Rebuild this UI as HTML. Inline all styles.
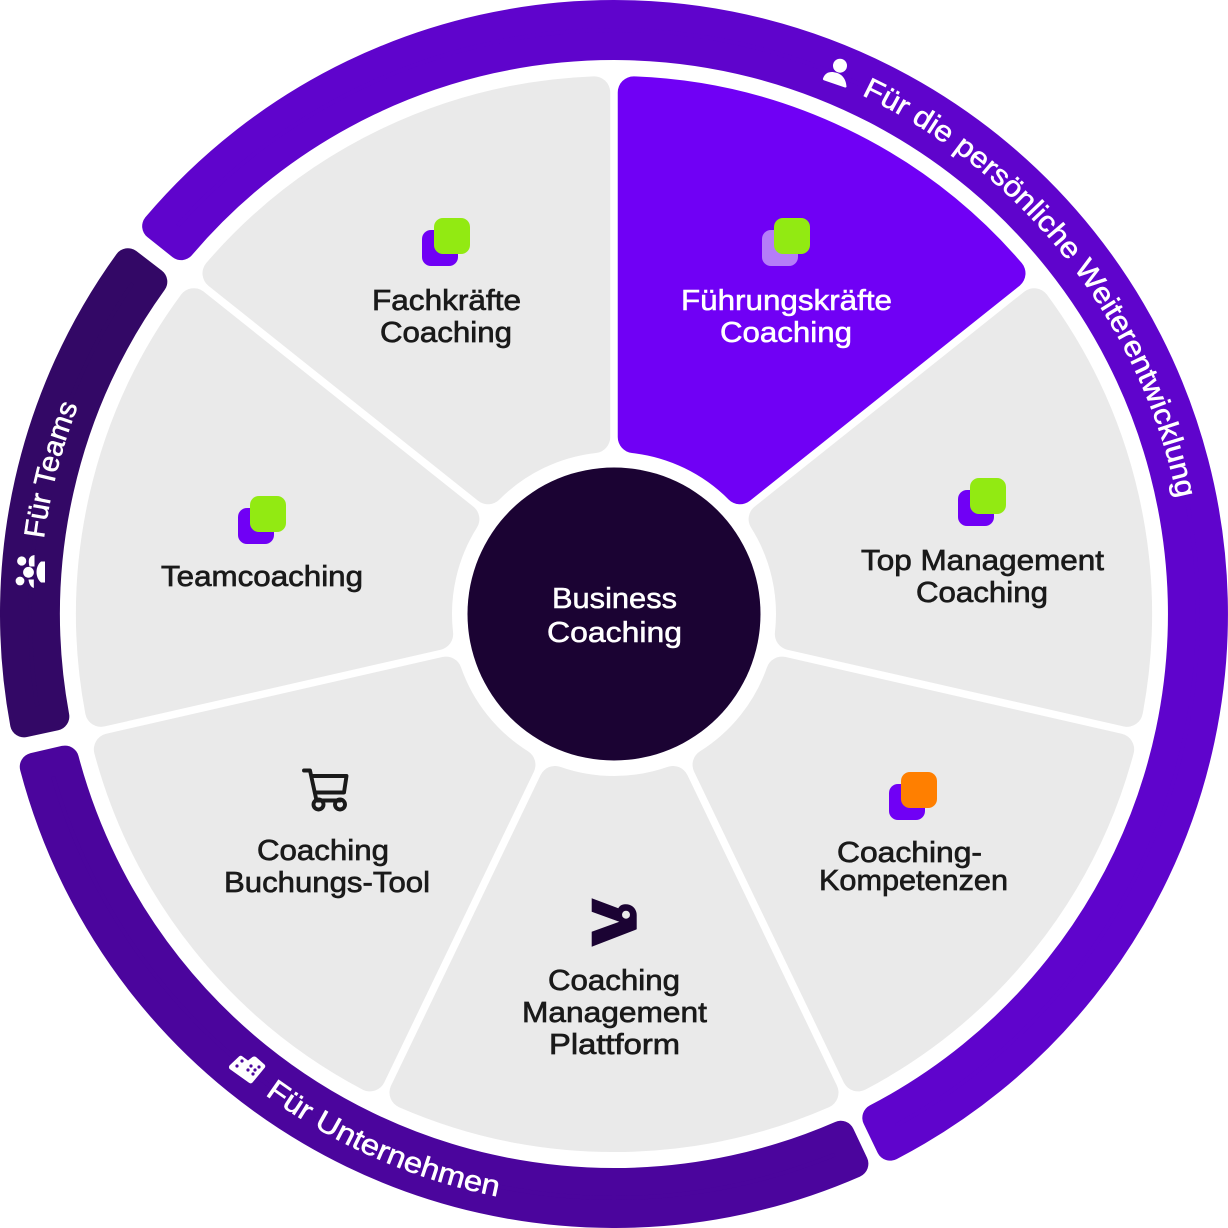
<!DOCTYPE html>
<html><head><meta charset="utf-8"><title>Business Coaching</title>
<style>
html,body{margin:0;padding:0;background:#fff}
svg{display:block}
text{font-family:"Liberation Sans",sans-serif;font-size:29px}
.d{fill:#1a1a1a;stroke:#1a1a1a;stroke-width:.7}
.w{fill:#fff;stroke:#fff;stroke-width:.55}
</style></head><body>
<svg xmlns="http://www.w3.org/2000/svg" width="1228" height="1228" viewBox="0 0 1228 1228">
<defs>
<path id="seg" d="M-208.53 -478.54A522 522 0 0 1 208.53 -478.54L58.96 -167.95A178 178 0 0 0 -58.96 -167.95Z" stroke-width="32" stroke-linejoin="round"/>
<path id="t1" d="M861.5 95A575 575 0 0 1 1186.8 563.9" fill="none"/>
<path id="t2" d="M264.9 1094.6A594 594 0 0 0 562.2 1205.7" fill="none"/>
<path id="t3" d="M43.9 538.9A575 575 0 0 1 173.5 244.4" fill="none"/>
</defs>
<!-- outer rings -->
<path d="M156.16 226.2A600 600 0 1 1 890.21 1146.66L876.32 1117.82A568 568 0 1 0 181.2 246.15Z" fill="#5F04CC" stroke="#5F04CC" stroke-width="28" stroke-linejoin="round"/>
<path d="M854.39 1163.74A600 600 0 0 1 33.77 766.76L64.97 759.58A568 568 0 0 0 840.75 1134.78Z" fill="#4B059D" stroke="#4B059D" stroke-width="28" stroke-linejoin="round"/>
<path d="M24.05 723.34A600 600 0 0 1 127.93 262.2L153.32 281.74A568 568 0 0 0 55.33 716.53Z" fill="#330866" stroke="#330866" stroke-width="28" stroke-linejoin="round"/>
<!-- segments -->
<g fill="#EAEAEA" stroke="#EAEAEA">
<use href="#seg" transform="translate(614 614) rotate(77.143)"/>
<use href="#seg" transform="translate(614 614) rotate(128.571)"/>
<use href="#seg" transform="translate(614 614) rotate(180)"/>
<use href="#seg" transform="translate(614 614) rotate(231.429)"/>
<use href="#seg" transform="translate(614 614) rotate(282.857)"/>
<use href="#seg" transform="translate(614 614) rotate(334.286)"/>
</g>
<use href="#seg" fill="#7000F5" stroke="#7000F5" transform="translate(614 614) rotate(25.714)"/>
<circle cx="614" cy="614" r="146.5" fill="#1B0333"/>
<!-- square icons -->
<rect x="422" y="230" width="36" height="36" rx="9" fill="#7000F5"/><rect x="434" y="218" width="36" height="36" rx="9" fill="#92EA12"/>
<rect x="762" y="230" width="36" height="36" rx="9" fill="#B57DF8"/><rect x="774" y="218" width="36" height="36" rx="9" fill="#92EA12"/>
<rect x="958" y="490" width="36" height="36" rx="9" fill="#7000F5"/><rect x="970" y="478" width="36" height="36" rx="9" fill="#92EA12"/>
<rect x="238" y="508" width="36" height="36" rx="9" fill="#7000F5"/><rect x="250" y="496" width="36" height="36" rx="9" fill="#92EA12"/>
<rect x="889" y="784" width="36" height="36" rx="9" fill="#7000F5"/><rect x="901" y="772" width="36" height="36" rx="9" fill="#FF7F00"/>
<!-- cart -->
<g fill="none" stroke="#1a1a1a" stroke-width="3.9" stroke-linejoin="round" stroke-linecap="round">
<path d="M304 770.5H310L316.5 800.5H340"/>
<path d="M312.5 776H346.5L344 792.5H315"/>
<circle cx="318.5" cy="804.5" r="5"/><circle cx="340" cy="804.5" r="5"/>
</g>
<!-- logo -->
<path d="M591.7 898.3L618.3 908.3C620 905 623 904.3 626 904.3C632 904.3 636.7 909 636.7 915V929.3L591.7 946.7V931.7L619.3 921.7L591.7 911.7Z" fill="#1B0333"/>
<circle cx="626" cy="914.7" r="4" fill="#EAEAEA"/>
<!-- person -->
<g fill="#fff"><circle cx="840" cy="65.7" r="7"/>
<path d="M823 78.5C825 73 829 71.5 834 72.2C841 73 846 78 846.5 86.5C846.5 87.4 845.5 87.7 844.6 87.4L823.8 80.2C823 79.9 822.8 79.2 823 78.5Z"/></g>
<!-- team -->
<g fill="#fff"><circle cx="21.7" cy="561" r="4.6"/><circle cx="20" cy="581" r="4.4"/><circle cx="28.5" cy="572.3" r="5.4"/>
<path d="M34.5 555V566.5L29.5 566.5C28.5 563 28.5 560 29.5 558C30.5 556.2 32.5 555.3 34.5 555Z"/>
<path d="M28.5 579.5H33.8V588C30.5 587 29 583.5 28.5 579.5Z"/>
<path d="M45 561.5V582.5H41C38 580 36.5 576 36.5 572C36.5 568 38 564 41 561.5Z"/></g>
<!-- building -->
<path d="M229.5 1065.5L239 1056.5C240 1055.5 241.5 1055.5 242.5 1056.5L248 1060.5L252.5 1057C253.5 1056.3 255 1056.3 256 1057L264.5 1064.5C265.5 1065.5 265.5 1067 264.5 1068L252.5 1082.5C251.5 1083.5 250 1083.7 249 1082.8L229.7 1069C228.8 1068 228.8 1066.5 229.5 1065.5Z" fill="#fff"/>
<g fill="#4B059D"><circle cx="242" cy="1061" r="1.6"/><circle cx="237" cy="1066" r="1.6"/><circle cx="248" cy="1070" r="1.6"/><circle cx="251" cy="1066" r="1.6"/><circle cx="255" cy="1070" r="1.6"/><circle cx="259" cy="1067" r="1.6"/><circle cx="253" cy="1074" r="1.6"/></g>
<!-- ring labels -->
<text class="w"><textPath href="#t1" textLength="531" lengthAdjust="spacingAndGlyphs">Für die persönliche Weiterentwicklung</textPath></text>
<text class="w"><textPath href="#t2" textLength="256" lengthAdjust="spacingAndGlyphs">Für Unternehmen</textPath></text>
<text class="w"><textPath href="#t3" textLength="138" lengthAdjust="spacingAndGlyphs">Für Teams</textPath></text>
<!-- labels -->
<text class="d" x="372" y="310" textLength="149" lengthAdjust="spacingAndGlyphs">Fachkräfte</text>
<text class="d" x="380" y="342" textLength="132" lengthAdjust="spacingAndGlyphs">Coaching</text>
<text class="w" x="681" y="310" textLength="211" lengthAdjust="spacingAndGlyphs">Führungskräfte</text>
<text class="w" x="720" y="342" textLength="132" lengthAdjust="spacingAndGlyphs">Coaching</text>
<text class="d" x="861" y="570" textLength="243" lengthAdjust="spacingAndGlyphs">Top Management</text>
<text class="d" x="916" y="602" textLength="132" lengthAdjust="spacingAndGlyphs">Coaching</text>
<text class="d" x="837" y="862" textLength="145" lengthAdjust="spacingAndGlyphs">Coaching-</text>
<text class="d" x="819" y="890" textLength="189" lengthAdjust="spacingAndGlyphs">Kompetenzen</text>
<text class="d" x="161" y="586" textLength="202" lengthAdjust="spacingAndGlyphs">Teamcoaching</text>
<text class="d" x="257" y="860" textLength="132" lengthAdjust="spacingAndGlyphs">Coaching</text>
<text class="d" x="224" y="892" textLength="206" lengthAdjust="spacingAndGlyphs">Buchungs-Tool</text>
<text class="d" x="548" y="990" textLength="132" lengthAdjust="spacingAndGlyphs">Coaching</text>
<text class="d" x="522" y="1022" textLength="185" lengthAdjust="spacingAndGlyphs">Management</text>
<text class="d" x="549" y="1054" textLength="131" lengthAdjust="spacingAndGlyphs">Plattform</text>
<text class="w" x="552" y="608" textLength="125" lengthAdjust="spacingAndGlyphs">Business</text>
<text class="w" x="547" y="642" textLength="135" lengthAdjust="spacingAndGlyphs">Coaching</text>
</svg>
</body></html>
